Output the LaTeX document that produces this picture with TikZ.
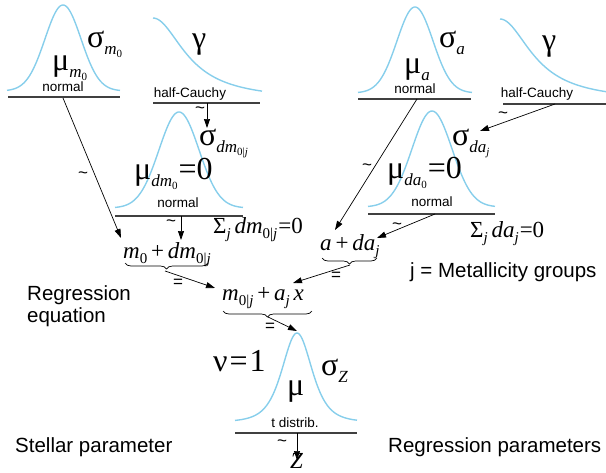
\documentclass[tikz,border=0pt]{standalone}
\usepackage{fontspec}
\setmainfont{Liberation Sans}
\newfontfamily\mf{Liberation Serif}
\usetikzlibrary{decorations.pathreplacing,arrows.meta}
\definecolor{curveblue}{HTML}{87CEEB}
\newcommand{\sA}[1]{\raisebox{-7pt}{\fontsize{17}{17}\selectfont #1}}
\newcommand{\sB}[1]{\raisebox{-3pt}{\fontsize{11}{11}\selectfont #1}}
\newcommand{\fA}[1]{\raisebox{-5pt}{\fontsize{15}{15}\selectfont #1}}
\tikzset{
  curve/.style={draw=curveblue, line width=1.4pt},
  bar/.style={draw=black!75, line width=1.2pt},
  arr/.style={draw=black, line width=0.7pt, -{Triangle[length=9pt,width=6pt]}},
  brc/.style={draw=black, line width=0.7pt, decorate, decoration={brace, mirror, amplitude=6pt}},
  gk/.style={inner sep=0pt, anchor=base west, font=\mf\fontsize{32}{32}\selectfont},
  fm/.style={inner sep=0pt, anchor=base west, font=\mf\fontsize{23}{23}\selectfont},
  dist/.style={inner sep=0pt, anchor=base, font=\fontsize{13.5}{13.5}\selectfont},
  lab/.style={inner sep=0pt, anchor=base west, font=\fontsize{20.5}{24}\selectfont},
  mk/.style={inner sep=0pt, anchor=center, font=\fontsize{17}{17}\selectfont},
}
\begin{document}
\begin{tikzpicture}[x=1pt,y=-1pt]
\useasboundingbox (0,0) rectangle (606,472);
% curves
\draw[curve] plot[domain=-56:57,samples=90] ({63+\x},{91-86*exp(-((\x/18)*(\x/18))/2)});
\draw[curve] plot[domain=0:109,samples=60] ({153+\x},{18+82*(1-1/(1+(\x/38)*(\x/38)))});
\draw[curve] plot[domain=-57:57,samples=90] ({415+\x},{93-86*exp(-((\x/18)*(\x/18))/2)});
\draw[curve] plot[domain=0:106,samples=60] ({500+\x},{19+82*(1-1/(1+(\x/38)*(\x/38)))});
\draw[curve] plot[domain=-64:64,samples=90] ({179+\x},{208-96*exp(-((\x/20)*(\x/20))/2)});
\draw[curve] plot[domain=-64:63,samples=90] ({432+\x},{207-96*exp(-((\x/20)*(\x/20))/2)});
\draw[curve] plot[domain=-62:60,samples=90] ({297+\x},{422-89*(1+(\x/15.5)*(\x/15.5)/4)^(-2.5)});
% bars
\draw[bar] (8,97) -- (120,97);
\draw[bar] (153,103) -- (260,103);
\draw[bar] (358,99) -- (471,99);
\draw[bar] (503,104) -- (606,104);
\draw[bar] (115,216) -- (243,216);
\draw[bar] (368,214) -- (495,214);
\draw[bar] (235,433) -- (357,433);
% distribution labels
\node[dist] (n1) at (63,91) {normal};
\node[dist] (hc1) at (190,97) {half-Cauchy};
\node[dist] (n3) at (415,93) {normal};
\node[dist] (hc2) at (537,97) {half-Cauchy};
\node[dist] (n2) at (178,207) {normal};
\node[dist] (n4) at (432,206) {normal};
\node[dist] (td) at (295,427) {t distrib.};
% parameters
\node[gk] (mum0) at (52,70) {μ\sA{\textit{m}\sB{0}}};
\node[gk] (sigm0) at (87,47) {σ\sA{\textit{m}\sB{0}}};
\node[gk] (gam1) at (192,48) {γ};
\node[gk] (mua) at (404,73) {μ\sA{\textit{a}}};
\node[gk] (siga) at (439,47) {σ\sA{\textit{a}}};
\node[gk] (gam2) at (542,50) {γ};
\node[gk] (sigdm) at (199,145) {σ\sA{\textit{dm}\sB{0|\textit{j}}}};
\node[gk] (mudm) at (134,179) {μ\sA{\textit{dm}\sB{0}}\kern1pt=0};
\node[gk] (sigda) at (452,145) {σ\sA{\textit{da}\sB{\textit{j}}}};
\node[gk] (muda) at (387,178) {μ\sA{\textit{da}\sB{0}}\kern1pt=0};
\node[gk] (nu) at (213,371) {ν\kern2pt=\kern2pt1};
\node[gk] (sigz) at (321,375) {σ\sA{\textit{Z}}};
\node[gk] (mut) at (287,395) {μ};
% formulas
\node[fm] (sumdm) at (213,233) {Σ\fA{\textit{j}}\,\textit{dm}\fA{0|\textit{j}}\kern1pt=0};
\node[fm] (sumda) at (470,237) {Σ\fA{\textit{j}}\,\textit{da}\fA{\textit{j}}\kern1pt=0};
\node[fm] (f1) at (123,258) {\textit{m}\fA{0}\,+\,\textit{dm}\fA{0|\textit{j}}};
\node[fm] (f3) at (320,250) {\textit{a}\,+\,\textit{da}\fA{\textit{j}}};
\node[fm] (f2) at (222,300) {\textit{m}\fA{0|\textit{j}}\,+\,\textit{a}\fA{\textit{j}}\,\textit{x}};
\node[fm] (zz) at (290,468) {\textit{Z}};
% labels
\node[lab] (re1) at (27,300) {Regression};
\node[lab] (re2) at (27,322) {equation};
\node[lab] (jmg) at (410,277) {j = Metallicity groups};
\node[lab] (sp) at (15,452) {Stellar parameter};
\node[lab] (rp) at (388,452) {Regression parameters};
% braces
\draw[brc] (125,263) -- (208,263);
\draw[brc] (322,258) -- (377,258);
\draw[brc] (223,311) -- (312,311);
% arrow end points
\coordinate (a1s) at (63,98);   \coordinate (a1e) at (121,238);
\coordinate (a2s) at (207,103); \coordinate (a2e) at (207,128);
\coordinate (a3s) at (555,104); \coordinate (a3e) at (480,131);
\coordinate (a4s) at (417,99);  \coordinate (a4e) at (335,230);
\coordinate (a5s) at (181,216); \coordinate (a5e) at (181,240);
\coordinate (a6s) at (435,214); \coordinate (a6e) at (377,238);
\coordinate (a7s) at (165,271); \coordinate (a7e) at (215,288);
\coordinate (a8s) at (350,265); \coordinate (a8e) at (293,283);
\coordinate (a9s) at (268,317); \coordinate (a9e) at (297,331);
\coordinate (a10s) at (297,433); \coordinate (a10e) at (297,460);
\draw[arr] (a1s) -- (a1e);
\draw[arr] (a2s) -- (a2e);
\draw[arr] (a3s) -- (a3e);
\draw[arr] (a4s) -- (a4e);
\draw[arr] (a5s) -- (a5e);
\draw[arr] (a6s) -- (a6e);
\draw[arr] (a7s) -- (a7e);
\draw[arr] (a8s) -- (a8e);
\draw[arr] (a9s) -- (a9e);
\draw[arr] (a10s) -- (a10e);
% marks
\node[mk] (t1) at (83,175) {\textasciitilde};
\node[mk] (t2) at (200,110) {\textasciitilde};
\node[mk] (t3) at (503,115) {\textasciitilde};
\node[mk] (t4) at (367,167) {\textasciitilde};
\node[mk] (t5) at (171,223) {\textasciitilde};
\node[mk] (t6) at (397,226) {\textasciitilde};
\node[mk] (t10) at (282,443) {\textasciitilde};
\node[mk] (e7) at (178,283) {=};
\node[mk] (e8) at (336,276) {=};
\node[mk] (e9) at (270,327) {=};
\end{tikzpicture}
\end{document}
